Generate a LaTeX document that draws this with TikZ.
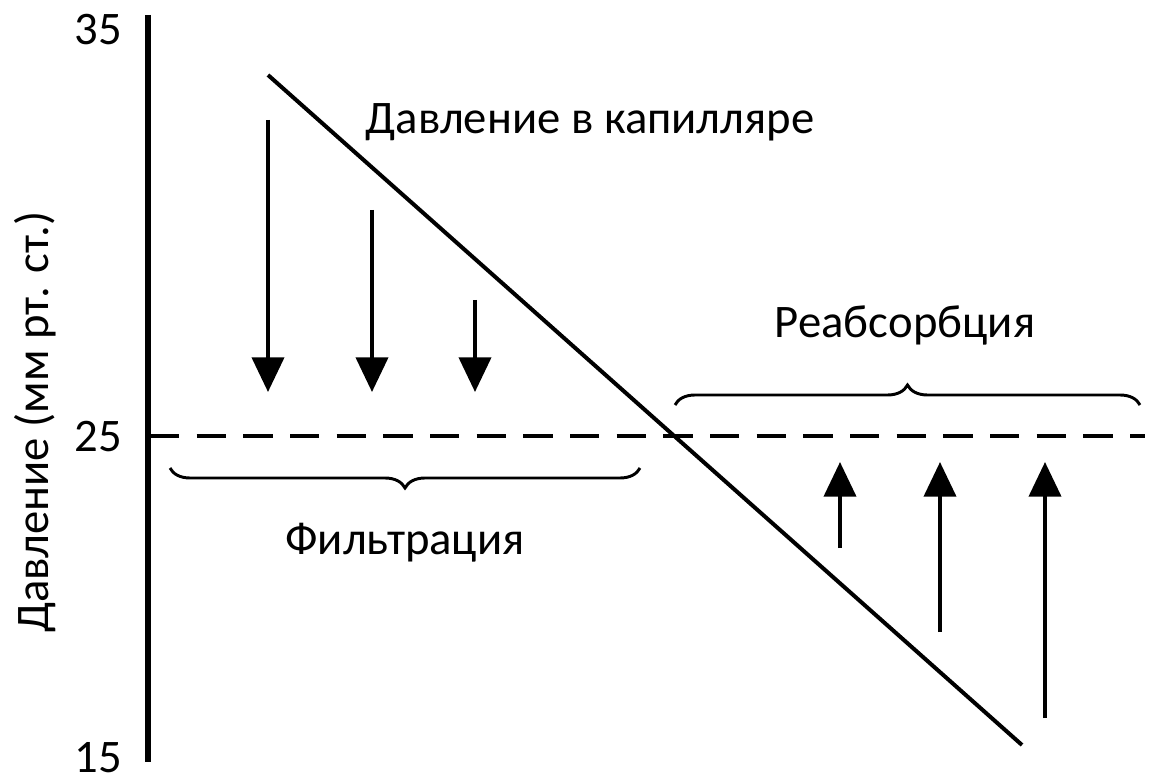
\documentclass[tikz,border=0pt]{standalone}
\usepackage{fontspec}
\setmainfont{Carlito}
\usetikzlibrary{arrows.meta,decorations.pathreplacing}
\begin{document}
\begin{tikzpicture}[x=0.75pt,y=-0.75pt,
  lbl/.style={font=\fontsize{35}{42}\selectfont,inner sep=0pt},
  arr/.style={line width=3pt,-{Triangle[width=24pt,length=26pt]}},
  br/.style={line width=2.2pt,decorate,decoration={brace,amplitude=15pt}}]
\useasboundingbox (0,0) rectangle (1157,784);
\draw[line width=3.8pt] (148,15) -- (148,762);
\node[lbl] (t35) at (98,30) {35};
\node[lbl] (t25) at (98,437) {25};
\node[lbl] (t15) at (98,758) {15};
\node[lbl,rotate=90] (yl) at (35,422) {Давление (мм рт. ст.)};
\coordinate (l1) at (268,75); \coordinate (l2) at (1022,745);
\draw[line width=3pt] (l1) -- (l2);
\coordinate (d1) at (150,436); \coordinate (d2) at (1145,436);
\draw[line width=3pt,dash pattern=on 22pt off 13pt] (d1) -- (d2);
\foreach \x/\a in {268/120,372/210,475/300}{
  \coordinate (a\x) at (\x,\a); \coordinate (b\x) at (\x,392);
  \draw[arr] (a\x) -- (b\x);}
\foreach \x/\a in {840/548,940/632,1045/718}{
  \coordinate (a\x) at (\x,\a); \coordinate (b\x) at (\x,462);
  \draw[arr] (a\x) -- (b\x);}
\coordinate (r1) at (675,405); \coordinate (r2) at (1140,405);
\draw[br] (r1) -- (r2);
\coordinate (f1) at (170,468); \coordinate (f2) at (640,468);
\draw[br,decoration={mirror}] (f1) -- (f2);
\node[lbl] (cap) at (590,122) {Давление в капилляре};
\node[lbl] (re) at (905,325) {Реабсорбция};
\node[lbl] (fi) at (405,543) {Фильтрация};
\end{tikzpicture}
\end{document}
